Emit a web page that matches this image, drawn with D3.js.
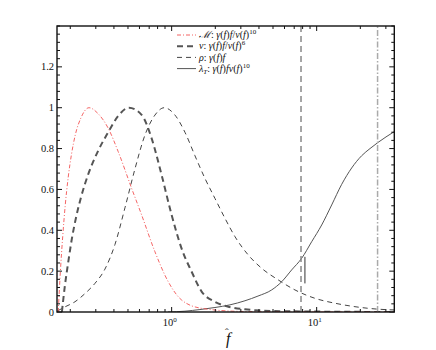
<!DOCTYPE html>
<html lang="en">
<head>
<meta charset="utf-8" />
<script src="https://cdn.jsdelivr.net/npm/d3@7"></script>
<style>
body { margin: 0; background: #fff; }
text { font-family: "Liberation Serif", "DejaVu Serif", serif; fill: #111; }
</style>
</head>
<body>
<script>
// curves: f-hat and normalised value
var fM = [0.1652, 0.171, 0.1774, 0.1845, 0.1936, 0.2037, 0.2171, 0.2368, 0.269, 0.312, 0.365, 0.428, 0.53, 0.621, 0.767, 0.948, 1.17, 1.61, 2.96, 7.67, 34.3];
var vM = [0, 0.2, 0.37, 0.52, 0.66, 0.77, 0.87, 0.95, 1.0, 0.97, 0.9, 0.785, 0.605, 0.475, 0.295, 0.148, 0.059, 0.018, 0.003, 0, 0];

var fNu = [0.1751, 0.1837, 0.1942, 0.2053, 0.2188, 0.2368, 0.2647, 0.3117, 0.3653, 0.4282, 0.5076, 0.6209, 0.7278, 0.8532, 1.0, 1.172, 1.374, 1.61, 1.989, 2.457, 3.203, 5.583, 34.3];
var vNu = [0, 0.13, 0.25, 0.36, 0.46, 0.56, 0.67, 0.79, 0.88, 0.96, 1.0, 0.965, 0.85, 0.67, 0.475, 0.31, 0.197, 0.1, 0.05, 0.026, 0.013, 0.004, 0];

var fRho = [0.1631, 0.1837, 0.2153, 0.2524, 0.2958, 0.3467, 0.4064, 0.4765, 0.5583, 0.6545, 0.7671, 0.8892, 1.054, 1.235, 1.448, 1.697, 1.989, 2.331, 2.733, 3.376, 4.176, 5.435, 7.087, 9.734, 13.37, 18.37, 25.24, 34.3];
var vRho = [0.005, 0.025, 0.05, 0.09, 0.14, 0.21, 0.33, 0.51, 0.7, 0.866, 0.964, 1.0, 0.964, 0.88, 0.765, 0.654, 0.556, 0.459, 0.369, 0.279, 0.214, 0.157, 0.108, 0.067, 0.043, 0.026, 0.015, 0.01];

var fLam = [0.943, 1.235, 1.567, 1.989, 2.524, 3.203, 3.937, 4.894, 5.735, 6.724, 7.882, 9.237, 10.83, 12.69, 14.88, 17.43, 20.43, 23.32, 26.48, 30.06, 34.13];
var vLam = [0, 0.004, 0.012, 0.022, 0.035, 0.055, 0.078, 0.108, 0.148, 0.206, 0.263, 0.344, 0.426, 0.524, 0.625, 0.705, 0.765, 0.8, 0.83, 0.857, 0.882];

// markers
var fDashLine = 7.8;
var fDotLine = 26.3;
var fSegment = 8.3;
var vSegment = [0.27, 0.14];

// axes
var yTicks = [0, 0.2, 0.4, 0.6, 0.8, 1, 1.2];
var yTickLabels = ["0", "0.2", "0.4", "0.6", "0.8", "1", "1.2"];
var xMajor = [1, 10];
var xMajorExp = ["0", "1"];
var xMinor = [0.2, 0.3, 0.4, 0.5, 0.6, 0.7, 0.8, 0.9, 2, 3, 4, 5, 6, 7, 8, 9, 20, 30];

var w = 436, h = 350;
var pLeft = 57, pRight = 394.3, pTop = 26, pBottom = 312;

var svg = d3.select("body").append("svg").attr("width", w).attr("height", h);

var x = d3.scaleLog().domain([0.162, 34.3]).range([pLeft, pRight]);
var y = d3.scaleLinear().domain([0, 1.4]).range([pBottom, pTop]);

svg.append("clipPath").attr("id", "plot")
	.append("rect").attr("x", pLeft).attr("y", pTop)
	.attr("width", pRight - pLeft).attr("height", pBottom - pTop);

var line = d3.line()
	.x(function(d) { return x(d[0]); })
	.y(function(d) { return y(d[1]); })
	.curve(d3.curveMonotoneX);

function pairs(fs, vs) {
	return fs.map(function(f, i) { return [f, vs[i]]; });
}

var g = svg.append("g").attr("clip-path", "url(#plot)");

var styles = {
	M: { stroke: "#f24a4a", width: 1, dash: "4,2,1,2", op: 0.85 },
	nu: { stroke: "#555", width: 2, dash: "6,4", op: 1 },
	rho: { stroke: "#444", width: 1, dash: "5,4", op: 1 },
	lam: { stroke: "#555", width: 1, dash: null, op: 1 }
};

function drawCurve(data, s) {
	g.append("path").datum(data)
		.attr("d", line)
		.attr("fill", "none")
		.attr("stroke", s.stroke)
		.attr("stroke-width", s.width)
		.attr("stroke-dasharray", s.dash)
		.attr("stroke-opacity", s.op);
}

drawCurve(pairs(fRho, vRho), styles.rho);
drawCurve(pairs(fNu, vNu), styles.nu);
drawCurve(pairs(fLam, vLam), styles.lam);
drawCurve(pairs(fM, vM), styles.M);

// vertical markers
g.append("line")
	.attr("x1", x(fDashLine)).attr("x2", x(fDashLine))
	.attr("y1", y(0)).attr("y2", y(1.4))
	.attr("stroke", "#888").attr("stroke-width", 1.5)
	.attr("stroke-dasharray", "6,4");
g.append("line")
	.attr("x1", x(fDotLine)).attr("x2", x(fDotLine))
	.attr("y1", y(0)).attr("y2", y(1.4))
	.attr("stroke", "#aaa").attr("stroke-width", 1.5)
	.attr("stroke-dasharray", "6,2,1.5,2");
g.append("line")
	.attr("x1", x(fSegment)).attr("x2", x(fSegment))
	.attr("y1", y(vSegment[0])).attr("y2", y(vSegment[1]))
	.attr("stroke", "#333").attr("stroke-width", 1);

// ticks (inward, all four sides)
var yMinor = d3.range(0, 1.401, 0.04);
var tk = svg.append("g").attr("stroke", "#111").attr("stroke-width", 1);
yMinor.forEach(function(v) {
	var major = yTicks.some(function(t) { return Math.abs(t - v) < 1e-6; });
	var len = major ? 5 : 3;
	tk.append("line").attr("x1", pLeft).attr("x2", pLeft + len).attr("y1", y(v)).attr("y2", y(v));
	tk.append("line").attr("x1", pRight).attr("x2", pRight - len).attr("y1", y(v)).attr("y2", y(v));
});
xMajor.concat(xMinor).forEach(function(f) {
	var len = xMajor.indexOf(f) >= 0 ? 5 : 3;
	tk.append("line").attr("x1", x(f)).attr("x2", x(f)).attr("y1", pBottom).attr("y2", pBottom - len);
	tk.append("line").attr("x1", x(f)).attr("x2", x(f)).attr("y1", pTop).attr("y2", pTop + len);
});

// frame
svg.append("rect")
	.attr("x", pLeft).attr("y", pTop)
	.attr("width", pRight - pLeft).attr("height", pBottom - pTop)
	.attr("fill", "none").attr("stroke", "#111").attr("stroke-width", 1.4);

// y labels
svg.append("g").selectAll("text")
	.data(yTicks).enter().append("text")
	.attr("x", pLeft - 3)
	.attr("y", function(d) { return y(d) + 3.5; })
	.attr("text-anchor", "end")
	.attr("font-size", "10.5px")
	.text(function(d, i) { return yTickLabels[i]; });

// x labels 10^n
xMajor.forEach(function(f, i) {
	var t = svg.append("text")
		.attr("x", x(f) - 2).attr("y", 326)
		.attr("text-anchor", "middle")
		.attr("font-size", "10.5px");
	t.append("tspan").text("10");
	t.append("tspan").attr("dy", -4.5).attr("font-size", "7px").text(xMajorExp[i]);
});

// x title: f with a hat on top, one text element
var xMid = (pLeft + pRight) / 2;
var xt = svg.append("text")
	.attr("x", xMid + 2).attr("y", 344)
	.attr("text-anchor", "middle")
	.attr("font-size", "16px");
xt.append("tspan").attr("font-style", "italic").text("f");
xt.append("tspan").attr("dx", -5.5).attr("dy", -8).attr("font-size", "11px").text("\u02c6");

// legend
var legendRows = [
	{ s: styles.M, parts: [["\u2133", 1], [": ", 0], ["\u03b3", 1], ["(", 0], ["f", 1], [")", 0], ["f", 1], ["/", 0], ["v", 1], ["(", 0], ["f", 1], [")", 0], ["10", 0, "sup"]] },
	{ s: styles.nu, parts: [["\u03bd", 1], [": ", 0], ["\u03b3", 1], ["(", 0], ["f", 1], [")", 0], ["f", 1], ["/", 0], ["v", 1], ["(", 0], ["f", 1], [")", 0], ["6", 0, "sup"]] },
	{ s: styles.rho, parts: [["\u03c1", 1], [": ", 0], ["\u03b3", 1], ["(", 0], ["f", 1], [")", 0], ["f", 1]] },
	{ s: styles.lam, parts: [["\u03bb", 1], ["T", 1, "sub"], [": ", 0], ["\u03b3", 1], ["(", 0], ["f", 1], [")", 0], ["f", 1], ["v", 1], ["(", 0], ["f", 1], [")", 0], ["10", 0, "sup"]] }
];

var lg = svg.append("g");
legendRows.forEach(function(r, i) {
	var ry = 35 + i * 11.2;
	lg.append("line")
		.attr("x1", 177).attr("x2", 196)
		.attr("y1", ry).attr("y2", ry)
		.attr("stroke", r.s.stroke)
		.attr("stroke-width", r.s.width)
		.attr("stroke-dasharray", r.s.dash)
		.attr("stroke-opacity", r.s.op);
	var t = lg.append("text").attr("x", 199).attr("y", ry + 3.2).attr("font-size", "10px");
	var shift = 0;
	r.parts.forEach(function(p) {
		var ts = t.append("tspan").text(p[0]);
		if (p[1]) ts.attr("font-style", "italic");
		var want = 0;
		if (p[2] === "sup") { ts.attr("font-size", "7px"); want = -4; }
		if (p[2] === "sub") { ts.attr("font-size", "7px"); want = 2; }
		if (want !== shift) { ts.attr("dy", want - shift); shift = want; }
	});
});
</script>
</body>
</html>
